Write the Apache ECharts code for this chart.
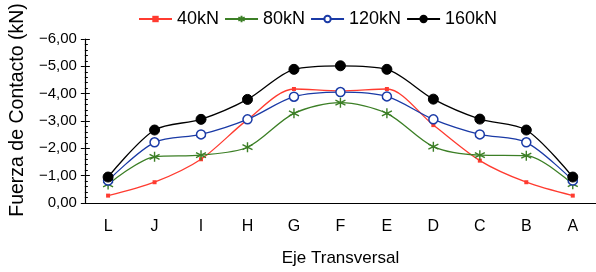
<!DOCTYPE html>
<html>
<head>
<meta charset="utf-8">
<script src="https://cdn.jsdelivr.net/npm/echarts@6/dist/echarts.min.js"></script>
<style>
  html, body { margin: 0; padding: 0; background: #fff; }
  #chart { width: 596px; height: 272px; }
</style>
</head>
<body>
<div id="chart"></div>
<script>
// datos
var categories = ['L', 'J', 'I', 'H', 'G', 'F', 'E', 'D', 'C', 'B', 'A']
var seriesNames = ['40kN', '80kN', '120kN', '160kN']
var f40 = [-0.27, -0.76, -1.6, -3.05, -4.17, -4.1, -4.17, -2.85, -1.55, -0.76, -0.27]
var f80 = [-0.68, -1.69, -1.75, -2.04, -3.28, -3.67, -3.28, -2.06, -1.75, -1.73, -0.69]
var f120 = [-0.82, -2.22, -2.51, -3.06, -3.89, -4.06, -3.9, -3.06, -2.51, -2.22, -0.82]
var f160 = [-0.95, -2.67, -3.06, -3.79, -4.89, -5.02, -4.89, -3.8, -3.07, -2.67, -0.95]

var font = 'Liberation Sans'
var asterisk = 'path://M5,0 L5,10 M0.7,2.5 L9.3,7.5 M0.7,7.5 L9.3,2.5'

function fmt(v) {
  var s = Math.abs(v).toFixed(2).replace('.', ',')
  return v < 0 ? '\u2212' + s : s
}

var chart = echarts.init(document.getElementById('chart'))
chart.setOption({
  animation: false,
  textStyle: { fontFamily: font },
  legend: {
    top: 5,
    left: 133,
    itemWidth: 33,
    itemHeight: 8,
    itemGap: 5,
    textStyle: { fontSize: 18, color: '#000', fontFamily: font },
    data: seriesNames
  },
  grid: { left: 80, right: 0, top: 39, bottom: 69 },
  xAxis: {
    type: 'category',
    data: categories,
    boundaryGap: true,
    name: 'Eje Transversal',
    nameLocation: 'middle',
    nameGap: 47,
    nameTextStyle: { fontSize: 17, color: '#000' },
    axisLine: { lineStyle: { color: '#000', width: 1.2 } },
    axisTick: { inside: true, length: 6, interval: 0, lineStyle: { color: '#000' } },
    axisLabel: { fontSize: 16, color: '#000', margin: 16, interval: 0 },
    splitLine: { show: false }
  },
  yAxis: [{
    type: 'value',
    min: -6,
    max: 0,
    interval: 1,
    inverse: true,
    name: 'Fuerza de Contacto (kN)',
    nameLocation: 'middle',
    nameGap: 52,
    nameTextStyle: { fontSize: 19.5, color: '#000', padding: [0, 0, 0, 22] },
    axisLine: { show: true, lineStyle: { color: '#000', width: 1.2 } },
    axisTick: { show: true, inside: false, length: 4, lineStyle: { color: '#000' } },
    axisLabel: { fontSize: 15, color: '#000', margin: 8, formatter: fmt },
    splitLine: { show: false }
  }, {
    type: 'value',
    min: -6,
    max: 0,
    interval: 1,
    inverse: true,
    position: 'left',
    axisLine: { show: false },
    axisTick: { show: true, inside: true, length: 5, lineStyle: { color: '#000' } },
    minorTick: { show: true, splitNumber: 5, length: 3, lineStyle: { color: '#000' } },
    axisLabel: { show: false },
    splitLine: { show: false }
  }],
  series: [{
    name: '40kN',
    type: 'line',
    data: f40,
    smooth: 0.3,
    symbol: 'rect',
    symbolSize: 4,
    itemStyle: { color: '#ff3b30' },
    lineStyle: { color: '#ff3b30', width: 1.3 },
    z: 2
  }, {
    name: '80kN',
    type: 'line',
    data: f80,
    smooth: 0.3,
    symbol: asterisk,
    symbolSize: 10,
    itemStyle: { color: '#3c7f26', borderColor: '#3c7f26', borderWidth: 1.4 },
    lineStyle: { color: '#3c7f26', width: 1.3 },
    z: 3
  }, {
    name: '120kN',
    type: 'line',
    data: f120,
    smooth: 0.3,
    symbol: 'circle',
    symbolSize: 9,
    showAllSymbol: true,
    itemStyle: { color: '#fff', borderColor: '#1a3aa6', borderWidth: 1.5 },
    lineStyle: { color: '#1a3aa6', width: 1.3 },
    z: 4
  }, {
    name: '160kN',
    type: 'line',
    data: f160,
    smooth: 0.3,
    symbol: 'circle',
    symbolSize: 10,
    itemStyle: { color: '#000', borderColor: '#000', borderWidth: 1 },
    lineStyle: { color: '#000', width: 1.3 },
    z: 5
  }]
})
</script>
</body>
</html>
